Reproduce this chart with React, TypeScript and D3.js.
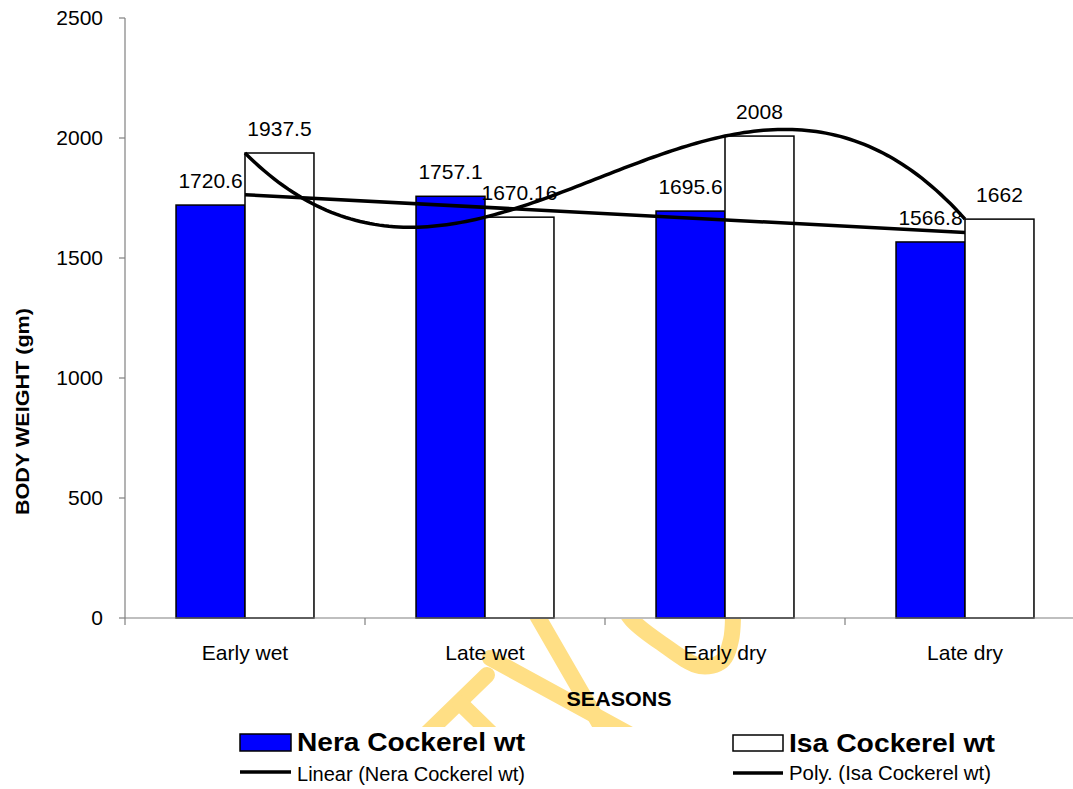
import React from "react";
import * as d3 from "d3";

const categories = ["Early wet", "Late wet", "Early dry", "Late dry"];
const neraValues = [1720.6, 1757.1, 1695.6, 1566.8];
const isaValues = [1937.5, 1670.16, 2008, 1662];
const neraLabels = ["1720.6", "1757.1", "1695.6", "1566.8"];
const isaLabels = ["1937.5", "1670.16", "2008", "1662"];
const yTicks = [0, 500, 1000, 1500, 2000, 2500];
const seriesNames = ["Nera Cockerel wt", "Isa Cockerel wt"];
const trendNames = ["Linear (Nera Cockerel wt)", "Poly. (Isa Cockerel wt)"];

// decorative watermark strokes (behind the axis labels)
const watermarkStrokes: [number, number][][] = [
  [[535, 612], [610, 742]],
  [[490, 658], [640, 740]],
  [[487, 675], [418, 742]],
  [[460, 703], [500, 742]],
  [[624, 608], [632, 620], [661, 643], [700, 666], [722, 661], [731, 640], [733, 608]],
];

const W = 1073;
const H = 789;
const FONT = "'Liberation Sans', Arial, sans-serif";

function polyfit(xs: number[], ys: number[], deg: number): number[] {
  const n = deg + 1;
  const A: number[][] = [];
  for (let r = 0; r < n; r++) {
    const row: number[] = [];
    for (let c = 0; c < n; c++) row.push(d3.sum(xs, (x) => Math.pow(x, r + c)));
    row.push(d3.sum(xs.map((x, i) => Math.pow(x, r) * ys[i])));
    A.push(row);
  }
  for (let i = 0; i < n; i++) {
    let p = i;
    for (let k = i + 1; k < n; k++) if (Math.abs(A[k][i]) > Math.abs(A[p][i])) p = k;
    [A[i], A[p]] = [A[p], A[i]];
    for (let k = 0; k < n; k++) {
      if (k === i) continue;
      const f = A[k][i] / A[i][i];
      for (let c = i; c <= n; c++) A[k][c] -= f * A[i][c];
    }
  }
  return A.map((row, i) => row[n] / row[i]);
}

const evalPoly = (coef: number[], x: number) =>
  coef.reduce((s, c, i) => s + c * Math.pow(x, i), 0);

export default function App() {
  const y = d3.scaleLinear().domain([0, 2500]).range([618, 18]);
  const x = d3.scaleBand().domain(categories).range([125, 1085]).paddingInner(0).paddingOuter(0);
  const sub = d3.scaleBand().domain(seriesNames).range([0, x.bandwidth()]).paddingInner(0).paddingOuter(0.74);
  const bw = x.bandwidth();
  const idxX = d3
    .scaleLinear()
    .domain([1, categories.length])
    .range([x(categories[0])! + bw / 2, x(categories[categories.length - 1])! + bw / 2]);

  const xs = categories.map((_, i) => i + 1);
  const linCoef = polyfit(xs, neraValues, 1);
  const polyCoef = polyfit(xs, isaValues, 3);
  const samples = d3.range(1, 4.0001, 0.02);
  const line = d3
    .line<number>()
    .x((t) => idxX(t))
    .y((t) => y(evalPoly(polyCoef, t)))
    .curve(d3.curveLinear);
  const linLine = d3
    .line<number>()
    .x((t) => idxX(t))
    .y((t) => y(evalPoly(linCoef, t)));

  const wmLine = d3
    .line<[number, number]>()
    .x((d) => d[0])
    .y((d) => d[1])
    .curve(d3.curveCatmullRom);

  const seriesData = [
    { name: seriesNames[0], values: neraValues, labels: neraLabels, fill: "#0000FF" },
    { name: seriesNames[1], values: isaValues, labels: isaLabels, fill: "#FFFFFF" },
  ];

  return (
    <svg
      width={W}
      height={H}
      style={{ position: "absolute", left: 0, top: 0, background: "#fff" }}
      fontFamily={FONT}
    >
      <defs>
        <clipPath id="wmclip">
          <rect x={0} y={619} width={W} height={108} />
        </clipPath>
      </defs>
      <rect x={0} y={0} width={W} height={H} fill="#fff" />

      {/* watermark */}
      <g clipPath="url(#wmclip)">
        {watermarkStrokes.map((pts, i) => (
          <path
            key={i}
            d={wmLine(pts)!}
            fill="none"
            stroke="#FFDF85"
            strokeWidth={16}
            strokeLinecap="round"
          />
        ))}
      </g>

      {/* bars */}
      {seriesData.map((s) =>
        categories.map((c, i) => (
          <rect
            key={s.name + c}
            x={x(c)! + sub(s.name)!}
            y={y(s.values[i])}
            width={sub.bandwidth()}
            height={y(0) - y(s.values[i])}
            fill={s.fill}
            stroke="#000"
            strokeWidth={1.5}
          />
        ))
      )}

      {/* axes */}
      <line x1={125} x2={125} y1={y(2500)} y2={y(0)} stroke="#808080" strokeWidth={1.2} />
      <line x1={125} x2={W} y1={y(0)} y2={y(0)} stroke="#808080" strokeWidth={1.2} />
      {yTicks.map((t) => (
        <g key={t}>
          <line x1={119} x2={125} y1={y(t)} y2={y(t)} stroke="#808080" strokeWidth={1.2} />
          <text x={103} y={y(t)} dy="0.35em" textAnchor="end" fontSize={21} fill="#000">
            {t}
          </text>
        </g>
      ))}
      {categories.map((c) => (
        <line key={c} x1={x(c)!} x2={x(c)!} y1={y(0)} y2={y(0) + 7} stroke="#808080" strokeWidth={1.2} />
      ))}
      {categories.map((c) => (
        <text key={c} x={x(c)! + bw / 2} y={660} textAnchor="middle" fontSize={21} fill="#000">
          {c}
        </text>
      ))}

      {/* data labels */}
      {seriesData.map((s) =>
        categories.map((c, i) => (
          <text
            key={"l" + s.name + c}
            x={x(c)! + sub(s.name)! + sub.bandwidth() / 2}
            y={y(s.values[i]) - 17}
            textAnchor="middle"
            fontSize={21}
            fill="#000"
          >
            {s.labels[i]}
          </text>
        ))
      )}

      {/* trend lines */}
      <path d={linLine([1, 4])!} fill="none" stroke="#000" strokeWidth={3.5} />
      <path d={line(samples)!} fill="none" stroke="#000" strokeWidth={3.5} />

      {/* axis titles */}
      <text
        x={619}
        y={706}
        textAnchor="middle"
        fontSize={20}
        fontWeight="bold"
        textLength={105}
        lengthAdjust="spacingAndGlyphs"
      >
        SEASONS
      </text>
      <text
        transform="translate(29,411.5) rotate(-90)"
        textAnchor="middle"
        fontSize={19}
        fontWeight="bold"
        textLength={207}
        lengthAdjust="spacingAndGlyphs"
      >
        BODY WEIGHT (gm)
      </text>

      {/* legend */}
      <rect x={240} y={734} width={51} height={17} fill="#0000FF" stroke="#000" strokeWidth={1.5} />
      <text x={297} y={751} fontSize={25} fontWeight="bold" textLength={228} lengthAdjust="spacingAndGlyphs">
        {seriesNames[0]}
      </text>
      <rect x={733} y={735} width={50} height={16} fill="#fff" stroke="#000" strokeWidth={1.5} />
      <text x={789} y={752} fontSize={25} fontWeight="bold" textLength={206} lengthAdjust="spacingAndGlyphs">
        {seriesNames[1]}
      </text>
      <line x1={240} x2={291} y1={772} y2={772} stroke="#000" strokeWidth={3.5} />
      <text x={297} y={781} fontSize={20} textLength={228} lengthAdjust="spacingAndGlyphs">
        {trendNames[0]}
      </text>
      <line x1={733} x2={783} y1={773} y2={773} stroke="#000" strokeWidth={3.5} />
      <text x={789} y={780} fontSize={20} textLength={202} lengthAdjust="spacingAndGlyphs">
        {trendNames[1]}
      </text>
    </svg>
  );
}
